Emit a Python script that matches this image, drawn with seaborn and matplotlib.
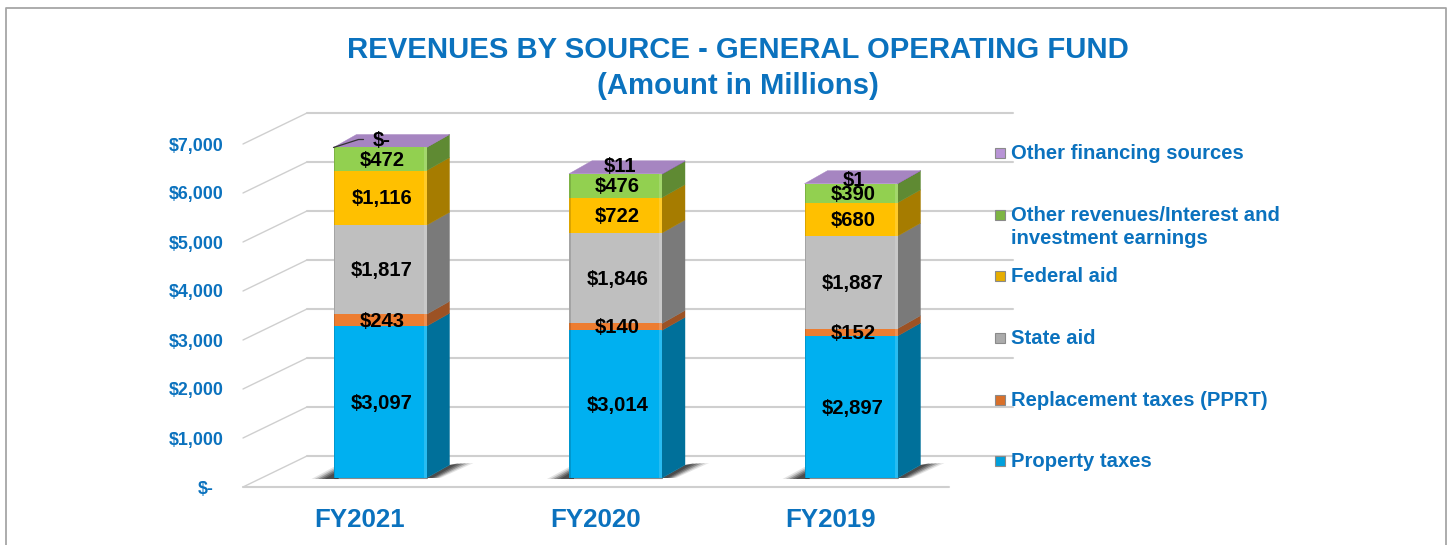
import matplotlib
matplotlib.use("Agg")
import matplotlib.pyplot as plt
import seaborn as sns
import numpy as np
from matplotlib.patches import Polygon, Rectangle
from matplotlib.transforms import ScaledTranslation

W, H, DPI = 1449, 545, 100

# ---- data ----
years = ["FY2021", "FY2020", "FY2019"]
sources = ["Property taxes", "Replacement taxes (PPRT)", "State aid", "Federal aid",
           "Other revenues/Interest and\ninvestment earnings", "Other financing sources"]
property_taxes = [3097, 3014, 2897]
replacement_taxes = [243, 140, 152]
state_aid = [1817, 1846, 1887]
federal_aid = [1116, 722, 680]
other_revenues = [472, 476, 390]
other_financing = [0, 11, 1]
series = [property_taxes, replacement_taxes, state_aid, federal_aid, other_revenues, other_financing]
data_labels = [["$3,097", "$3,014", "$2,897"], ["$243", "$140", "$152"], ["$1,817", "$1,846", "$1,887"],
               ["$1,116", "$722", "$680"], ["$472", "$476", "$390"], ["$-", "$11", "$1"]]
y_ticks = [0, 1000, 2000, 3000, 4000, 5000, 6000, 7000]
y_tick_labels = ["$-", "$1,000", "$2,000", "$3,000", "$4,000", "$5,000", "$6,000", "$7,000"]
title_lines = "REVENUES BY SOURCE - GENERAL OPERATING FUND\n(Amount in Millions)"

# ---- styles ----
front_colors = ["#00B0F0", "#ED7D31", "#BFBFBF", "#FFC000", "#92D050", "#B88FD8"]
side_colors = ["#00709A", "#9C5224", "#7A7A7A", "#A67C00", "#5F8A33", "#7D5C96"]
top_color = "#A685C1"
legend_colors = ["#00A0DC", "#D9702A", "#ABABAB", "#E6AD00", "#7DB543", "#B894D6"]
blue = "#0B72BE"
grid_c = "#CFCFCF"
FONT = "Liberation Sans"

sns.set_theme(style="white")
plt.rcParams["font.family"] = [FONT, "DejaVu Sans"]
plt.rcParams["font.weight"] = "bold"

fig = plt.figure(figsize=(W / DPI, H / DPI), dpi=DPI, facecolor="white")

# pixel geometry of the plot box
px_left, px_right, px_top, px_bot = 243, 1013, 112, 487
base_px = 478           # bar base (front) in pixels
px_per_val = 0.049
cx0, cstep = 380.0, 235.5
ax = fig.add_axes([px_left / W, 1 - px_bot / H, (px_right - px_left) / W, (px_bot - px_top) / H])

bottoms = np.zeros(3)
width = 93 / cstep
for vals, c in zip(series, front_colors):
    sns.barplot(x=years, y=vals, bottom=bottoms, color=c, saturation=1, width=width,
                order=years, ax=ax, linewidth=0, zorder=5)
    bottoms = bottoms + np.array(vals)

ax.set_xlim((px_left - cx0) / cstep, (px_right - cx0) / cstep)
ax.set_ylim(-(px_bot - base_px) / px_per_val, (base_px - px_top) / px_per_val)
ax.patch.set_alpha(0)
for s in ax.spines.values():
    s.set_visible(False)


def dx(p):
    return p / cstep


def dy(p):
    return p / px_per_val


# wall geometry
front_off = -dy(px_bot - base_px)
back_off = dy(base_px - 456)
wall_dx = dx(307 - 243)
x_l = ax.get_xlim()[0]
x_r = ax.get_xlim()[1]
for v in y_ticks:
    y_f = v + front_off
    y_b = v + back_off
    ax.plot([x_l, x_l + wall_dx], [y_f, y_b], color=grid_c, lw=1.0, zorder=1, clip_on=False)
    ax.plot([x_l + wall_dx, x_r], [y_b, y_b], color=grid_c, lw=1.5, zorder=1, clip_on=False)
ax.plot([x_l, x_r - wall_dx], [front_off, front_off], color=grid_c, lw=1.5, zorder=1, clip_on=False)

# 3D sides, top, shadows, bevels
ddx, ddy = dx(23), dy(13)
hw = width / 2
for i in range(3):
    xl, xr = i - hw, i + hw
    # soft floor shadow: stacked translucent layers, darker near the bar
    for k, a in zip([1.0, 0.85, 0.7, 0.55, 0.4], [0.12, 0.2, 0.3, 0.35, 0.4]):
        ax.add_patch(Polygon([(xl - dx(22 * k), -dy(1)), (xl, dy(11 * k)), (xl + dx(5), dy(11 * k)), (xl + dx(5), -dy(1))],
                             fc="#222222", ec="none", alpha=a, zorder=2))
        ax.add_patch(Polygon([(xr, 0), (xr + ddx, ddy), (xr + ddx + dx(24 * k), ddy + dy(2)),
                              (xr + dx(14 * k), 0)],
                             fc="#222222", ec="none", alpha=a, zorder=2))
    b = 0
    for j, vals in enumerate(series):
        v = vals[i]
        ax.add_patch(Polygon([(xr, b), (xr + ddx, b + ddy), (xr + ddx, b + v + ddy), (xr, b + v)],
                             fc=side_colors[j], ec=side_colors[j], lw=0.3, zorder=4))
        if v > 50:
            ax.add_patch(Rectangle((xr - dx(3), b), dx(3), v, fc="white", ec="none", alpha=0.16, zorder=6))
            ax.add_patch(Rectangle((xl, b), dx(1.5), v, fc="black", ec="none", alpha=0.14, zorder=6))
        b += v
    ax.add_patch(Polygon([(xl, b), (xr, b), (xr + ddx, b + ddy), (xl + ddx, b + ddy)],
                         fc=top_color, ec=top_color, lw=0.3, zorder=4))
    ax.plot([xl, xr], [0, 0], color="#3C3C3C", lw=0.8, alpha=0.6, zorder=7)

# data labels: small top-series labels carry their own nudges, in pixels
top_label_dx = [2, 4, 2.5]
top_label_dy = [9, 10, 5]
for i in range(3):
    b = 0
    for j, vals in enumerate(series):
        v = vals[i]
        if j == 5:
            y = b + dy(top_label_dy[i])
            x = i + dx(top_label_dx[i])
        else:
            y = b + v / 2 + dy(1)
            x = i + dx(2)
        ax.text(x, y, data_labels[j][i], ha="center", va="center_baseline", fontsize=14.6,
                color="black", fontweight="bold", zorder=9, clip_on=False)
        b += v

# leader line for the zero label
tot0 = sum(s[0] for s in series)
ax.plot([0 - hw, 0 - hw + dx(25), 0 - hw + dx(30)],
        [tot0, tot0 + dy(8), tot0 + dy(8)], color="#333333", lw=0.9, zorder=8, clip_on=False)

# axes ticks
ax.set_yticks([v + front_off for v in y_ticks])
ax.set_yticklabels(y_tick_labels, fontsize=12.9, color=blue, fontweight="bold")
ax.tick_params(axis="y", length=0, pad=19 * 0.72)
ax.set_xticks(range(3))
ax.set_xticklabels(years, fontsize=18.6, color=blue, fontweight="bold")
ax.tick_params(axis="x", length=0, pad=21 * 0.72)
ax.set_xlabel("")
ax.set_ylabel("")
# FY labels sit under the front of the bars, slightly left of the bar centres
for lab in ax.get_xticklabels():
    lab.set_transform(lab.get_transform() + ScaledTranslation(-20 / DPI, 0, fig.dpi_scale_trans))
zero = ax.get_yticklabels()[0]
zero.set_transform(zero.get_transform() + ScaledTranslation(-10 / DPI, 0, fig.dpi_scale_trans))

# title
fig.text(737.5 / W, 1 - 68 / H, title_lines, ha="center", va="center", color=blue,
         fontsize=21.1, fontweight="bold", linespacing=1.39)

# legend
leg_y = [461, 400, 338, 276, 215, 153]
for name, c, yp in zip(sources, legend_colors, leg_y):
    fig.patches.append(Rectangle(((995.5) / W, 1 - (yp + 5) / H), 10 / W, 10 / H, transform=fig.transFigure,
                                 fc=c, ec="#8A8A8A", lw=0.8))
    fig.text(1011 / W, 1 - (yp - 9) / H, name, ha="left", va="top", color=blue,
             fontsize=14.55, fontweight="bold", linespacing=1.27)

# outer frame (open at the bottom edge)
fig.add_artist(plt.Line2D([5.5 / W, 5.5 / W, 1445.5 / W, 1445.5 / W],
                          [0, 1 - 7.5 / H, 1 - 7.5 / H, 0], color="#A6A6A6", lw=1.3))

fig.savefig("out.png", dpi=DPI, facecolor="white")
